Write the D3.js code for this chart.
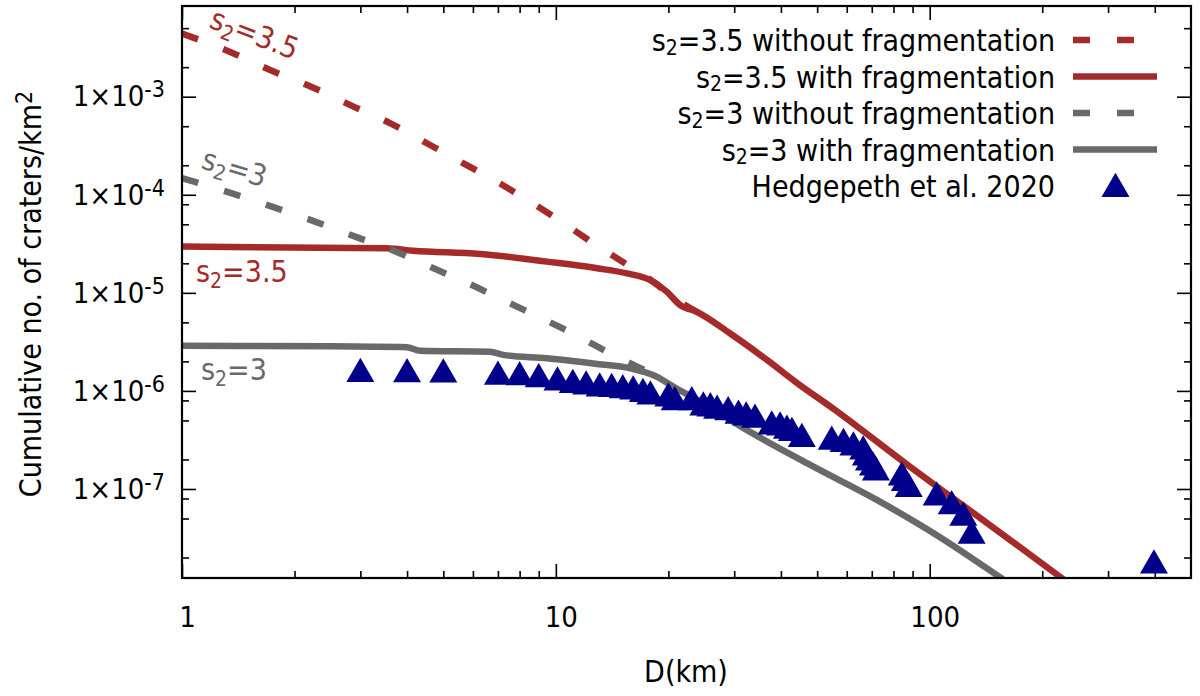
<!DOCTYPE html>
<html>
<head>
<meta charset="utf-8">
<script src="https://cdn.jsdelivr.net/npm/d3@7"></script>
<style>
  body { margin: 0; background: #fff; }
  svg { display: block; background: #fff; }
  .axis path { display: none; }
  .axis line { stroke: #000; stroke-width: 1.6; }
  .axis text { font-family: 'DejaVu Sans Condensed', 'DejaVu Sans', sans-serif; font-size: 29px; fill: #000; }
  .label { font-family: 'DejaVu Sans Condensed', 'DejaVu Sans', sans-serif; font-size: 30px; fill: #000; }
</style>
</head>
<body>
<div id="chart"></div>
<script>
// tick values and labels
const xTicksMajor = [1, 10, 100];
const xTicksMinor = [2, 3, 4, 5, 6, 7, 8, 9, 20, 30, 40, 50, 60, 70, 80, 90, 200, 300, 400];
const yTicksMajor = [1e-7, 1e-6, 1e-5, 1e-4, 1e-3];
const yTickExponents = ['-7', '-6', '-5', '-4', '-3'];
const yTicksMinor = [2e-8, 5e-8, 8e-8, 2e-7, 5e-7, 8e-7, 2e-6, 5e-6, 2e-5, 5e-5, 8e-5, 2e-4, 5e-4, 2e-3, 5e-3];

// s2=3.5 without fragmentation
const s35NoFragD = [1, 1.36, 1.72, 2.23, 2.82, 3.61, 4.52, 5.66, 7.02, 8.53, 10.4, 12.6, 15.3, 17.9, 21.1, 23.8];
const s35NoFragN = [4.4e-3, 2.81e-3, 1.87e-3, 1.25e-3, 8.2e-4, 5.35e-4, 3.35e-4, 2.09e-4, 1.33e-4, 8.5e-5, 5.25e-5, 3.2e-5, 2.0e-5, 1.36e-5, 8.5e-6, 6.42e-6];

// s2=3.5 with fragmentation
const s35FragD = [1, 3.53, 4.15, 6.28, 9.46, 12.9, 15.5, 17.9, 19.8, 21.5, 23.8, 29.2, 36.7, 44.1, 55.2, 88.5, 125.6, 163.9, 230];
const s35FragN = [2.96e-5, 2.85e-5, 2.69e-5, 2.49e-5, 2.08e-5, 1.78e-5, 1.58e-5, 1.35e-5, 1.03e-5, 7.5e-6, 6.42e-6, 3.87e-6, 2.07e-6, 1.21e-6, 6.6e-7, 1.69e-7, 6.37e-8, 3.03e-8, 1.17e-8];

// s2=3 without fragmentation
const s3NoFragD = [1, 1.374, 1.765, 2.27, 2.906, 3.74, 4.71, 5.96, 7.39, 9.16, 11.3, 13.7, 16.5, 18.4];
const s3NoFragN = [1.48e-4, 1.02e-4, 7.43e-5, 5.32e-5, 3.74e-5, 2.63e-5, 1.78e-5, 1.2e-5, 8.1e-6, 5.5e-6, 3.72e-6, 2.51e-6, 1.77e-6, 1.46e-6];

// s2=3 with fragmentation
const s3FragD = [1, 2.49, 3.99, 4.34, 6.66, 7.24, 9.46, 12.9, 15.8, 18.6, 20.6, 25, 31.8, 47.9, 72.2, 102.2, 157];
const s3FragN = [2.88e-6, 2.85e-6, 2.79e-6, 2.57e-6, 2.51e-6, 2.33e-6, 2.15e-6, 1.88e-6, 1.70e-6, 1.40e-6, 1.11e-6, 7.36e-7, 4.17e-7, 1.76e-7, 7.74e-8, 3.56e-8, 1.2e-8];

// Hedgepeth et al. 2020
const hedgepethD = [3, 4, 5, 7.0, 8.0, 9.0, 10.1, 11.1, 12.05, 13.1, 14.1, 15.1, 16.1, 17.1, 17.9, 20.0, 20.8, 23.1,
  24.8, 25.9, 27.0, 28.9, 30.8, 32.3, 34.1, 37.8, 39.8, 41.5, 42.8, 45.5, 54.7, 58.8, 62.5, 66.4, 67.5, 68.8,
  70.5, 71.8, 84.2, 85.8, 87.9, 104.4, 114.5, 123, 129.5, 398];
const hedgepethN = [1.49e-6, 1.48e-6, 1.47e-6, 1.40e-6, 1.38e-6, 1.32e-6, 1.22e-6, 1.15e-6, 1.11e-6, 1.06e-6, 1.05e-6, 1.02e-6, 9.9e-7, 9.3e-7, 8.81e-7, 8.4e-7, 7.66e-7, 7.66e-7,
  6.8e-7, 6.65e-7, 6.3e-7, 6.06e-7, 5.6e-7, 5.38e-7, 5.1e-7, 4.35e-7, 4.25e-7, 3.94e-7, 3.73e-7, 3.24e-7, 3.04e-7, 2.88e-7, 2.66e-7, 2.41e-7, 2.10e-7, 1.87e-7,
  1.66e-7, 1.48e-7, 1.31e-7, 1.15e-7, 1.0e-7, 8.2e-8, 6.67e-8, 5.1e-8, 3.35e-8, 1.66e-8];

const legendLabels = ['=3.5 without fragmentation', '=3.5 with fragmentation', '=3 without fragmentation', '=3 with fragmentation', 'Hedgepeth et al. 2020'];

// constants
const red = '#a52a2a';
const gray = '#696969';
const navy = '#00008b';
const dash = '17,27';
const lineWidth = 6.5;

let margins = { top: 6, right: 9, bottom: 118, left: 182 },
    width = 1200 - margins.left - margins.right,
    height = 696 - margins.top - margins.bottom;

let xScale = d3.scaleLog().domain([1, 500]).range([0, width]);
let yScale = d3.scaleLog().domain([1.237e-8, 8.41e-3]).range([height, 0]);

let line = d3.line()
  .curve(d3.curveMonotoneX)
  .x(d => xScale(d[0]))
  .y(d => yScale(d[1]));

let $svg = d3.select('#chart').append('svg')
  .attr('width', 1200)
  .attr('height', 696);

let $g = $svg.append('g')
  .attr('transform', `translate(${margins.left}, ${margins.top})`);

$svg.append('defs').append('clipPath')
  .attr('id', 'plot-area')
  .append('rect')
  .attr('width', width)
  .attr('height', height);

// axes: ticks drawn inward on all four sides
function addAxis(axis, values, size, transform) {
  return $g.append('g')
    .classed('axis', true)
    .attr('transform', transform || null)
    .call(axis.tickValues(values).tickSize(-size));
}

let $xMajor = addAxis(d3.axisBottom(xScale).tickPadding(28.4).tickFormat(d3.format('d')), xTicksMajor, 14, `translate(0, ${height})`);
$xMajor.selectAll('.tick text').attr('dx', 5);
addAxis(d3.axisBottom(xScale).tickFormat(''), xTicksMinor, 7, `translate(0, ${height})`);
addAxis(d3.axisTop(xScale).tickFormat(''), xTicksMajor, 14);
addAxis(d3.axisTop(xScale).tickFormat(''), xTicksMinor, 7);

let $yMajor = addAxis(d3.axisLeft(yScale).tickPadding(17), yTicksMajor, 14);
$yMajor.selectAll('.tick text').each(function(d, i) {
  let $t = d3.select(this).text('1×10');
  $t.append('tspan').attr('dy', -9).style('font-size', '23px').text(yTickExponents[i]);
});
addAxis(d3.axisLeft(yScale).tickFormat(''), yTicksMinor, 7);
addAxis(d3.axisRight(yScale).tickFormat(''), yTicksMajor, 14, `translate(${width}, 0)`);
addAxis(d3.axisRight(yScale).tickFormat(''), yTicksMinor, 7, `translate(${width}, 0)`);

// curves
let $plot = $g.append('g').attr('clip-path', 'url(#plot-area)');

function addCurve(D, N, color, dashed) {
  $plot.append('path')
    .attr('d', line(d3.zip(D, N)))
    .style('fill', 'none')
    .style('stroke', color)
    .style('stroke-width', lineWidth)
    .style('stroke-dasharray', dashed ? dash : null);
}

addCurve(s35NoFragD, s35NoFragN, red, true);
addCurve(s35FragD, s35FragN, red, false);
addCurve(s3NoFragD, s3NoFragN, gray, true);
addCurve(s3FragD, s3FragN, gray, false);

let triangle = d3.symbol().type(d3.symbolTriangle).size(340);

$plot.selectAll('.hedgepeth')
  .data(d3.zip(hedgepethD, hedgepethN))
  .enter()
  .append('path')
  .classed('hedgepeth', true)
  .attr('d', triangle)
  .attr('transform', d => `translate(${xScale(d[0])}, ${yScale(d[1])})`)
  .style('fill', navy);

// frame
$g.append('rect')
  .attr('width', width)
  .attr('height', height)
  .style('fill', 'none')
  .style('stroke', '#000')
  .style('stroke-width', 2.2);

// "s2" text with subscript
function s2Text($parent, rest, color, subDy) {
  let $t = $parent.append('text').classed('label', true).style('fill', color);
  $t.append('tspan').text('s');
  $t.append('tspan').attr('dy', subDy).style('font-size', '21px').text('2');
  $t.append('tspan').attr('dy', -subDy).text(rest);
  return $t;
}

// curve labels
s2Text($svg, '=3.5', red, 6).attr('transform', 'translate(208, 27) rotate(21)');
s2Text($svg, '=3', gray, 6).attr('transform', 'translate(200, 168) rotate(17)');
s2Text($svg, '=3.5', red, 6).attr('x', 196).attr('y', 282);
s2Text($svg, '=3', gray, 6).attr('x', 201).attr('y', 380);

// legend
const legendColors = [red, red, gray, gray, navy];
const legendDashed = [true, false, true, false, false];

legendLabels.forEach((label, i) => {
  let rowY = 40 + i * 36.5;
  if (i < 4) {
    s2Text($svg, label, '#000', 3.5)
      .attr('x', 1055).attr('y', rowY + 11)
      .style('text-anchor', 'end');
    $svg.append('line')
      .attr('x1', 1073).attr('x2', 1157)
      .attr('y1', rowY).attr('y2', rowY)
      .style('stroke', legendColors[i])
      .style('stroke-width', lineWidth)
      .style('stroke-dasharray', legendDashed[i] ? dash : null);
  } else {
    $svg.append('text').classed('label', true)
      .attr('x', 1055).attr('y', rowY + 11)
      .style('text-anchor', 'end')
      .text(label);
    $svg.append('path')
      .attr('d', triangle)
      .attr('transform', `translate(1115.5, ${rowY + 3})`)
      .style('fill', navy);
  }
});

// axis titles
$svg.append('text').classed('label', true)
  .attr('x', 686).attr('y', 682)
  .style('text-anchor', 'middle')
  .text('D(km)');

let $yTitle = $svg.append('text').classed('label', true)
  .attr('transform', 'translate(41, 294) rotate(-90)')
  .style('text-anchor', 'middle');
$yTitle.append('tspan').text('Cumulative no. of craters/km');
$yTitle.append('tspan').attr('dy', -9).style('font-size', '23px').text('2');
</script>
</body>
</html>
